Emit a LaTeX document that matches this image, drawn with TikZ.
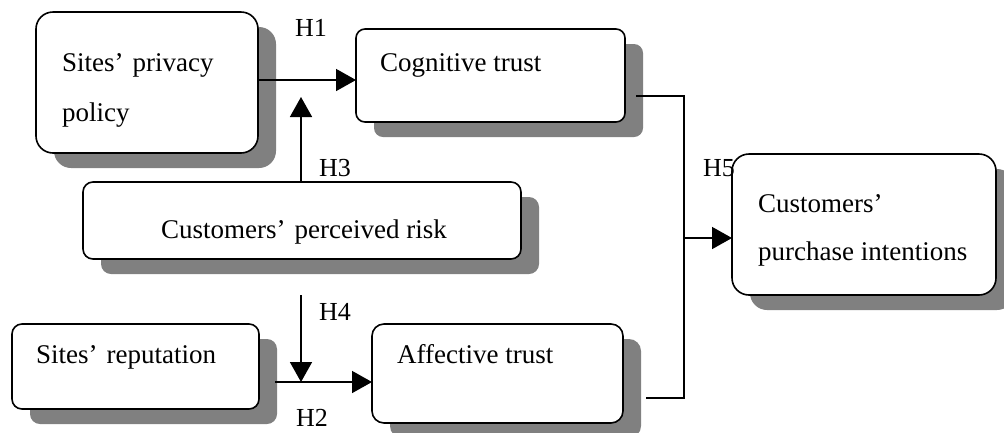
\documentclass[tikz,border=0pt]{standalone}
\usepackage{fontspec}
\setmainfont{Liberation Serif}
\usetikzlibrary{arrows.meta,shadows}
\newcommand\fq{’\hspace{0.33em}}
\begin{document}
\begin{tikzpicture}[x=1pt,y=-1pt,
  box/.style={draw, line width=1.6pt, fill=white, anchor=north west, inner sep=0pt, outer sep=0pt,
    drop shadow={shadow xshift=18pt, shadow yshift=-15pt, fill=black!50, opacity=1}},
  txt/.style={anchor=base west, inner sep=0pt, font=\fontsize{27pt}{31pt}\selectfont},
  hlab/.style={inner sep=0pt, font=\fontsize{26pt}{30pt}\selectfont},
  arr/.style={line width=1.6pt, -{Triangle[length=20pt,width=22pt]}},
  conn/.style={line width=1.6pt}]
\useasboundingbox (0,0) rectangle (1004,432);
% boxes
\node[box, rounded corners=17pt, minimum width=222pt, minimum height=141pt] (p1) at (36,12) {};
\node[box, rounded corners=9pt, minimum width=269pt, minimum height=93pt] (cog) at (356,29) {};
\node[box, rounded corners=10pt, minimum width=438pt, minimum height=77pt] (risk) at (83,182) {};
\node[box, rounded corners=10pt, minimum width=247pt, minimum height=85pt] (rep) at (12,324) {};
\node[box, rounded corners=12pt, minimum width=251pt, minimum height=99pt] (aff) at (372,324) {};
\node[box, rounded corners=17pt, minimum width=264pt, minimum height=141pt] (pur) at (732,154) {};
% texts
\node[txt] (t1a) at (62,71) {Sites\fq privacy};
\node[txt] (t1b) at (62,121) {policy};
\node[txt] (t2) at (380,71) {Cognitive trust};
\node[txt, anchor=base] (t3) at (304,238) {Customers\fq perceived risk};
\node[txt] (t4) at (36,363) {Sites\fq reputation};
\node[txt] (t5) at (397,363) {Affective trust};
\node[txt] (t6a) at (758,212) {Customers’};
\node[txt] (t6b) at (758,260) {purchase intentions};
% coordinates
\coordinate (h1y) at (0,80);
\coordinate (h3tip) at (301,97);
\coordinate (h4top) at (301,295);
\coordinate (h2start) at (275,382);
\coordinate (cogout) at (636,96);
\coordinate (jb) at (684,398);
\coordinate (affout) at (646,398);
\coordinate (jm) at (684,238);
% connectors
\draw[arr] (p1.east |- h1y) -- (cog.west |- h1y);
\draw[arr] (h3tip |- risk.north) -- (h3tip);
\draw[arr] (h4top) -- (h4top |- h2start);
\draw[arr] (h2start) -- (aff.west |- h2start);
\draw[conn] (cogout) -| (jb) -- (affout);
\draw[arr] (jm) -- (pur.west |- jm);
% labels
\node[hlab] (H1) at (311,28) {H1};
\node[hlab] (H3) at (335,168) {H3};
\node[hlab] (H4) at (335,312) {H4};
\node[hlab] (H2) at (312,418) {H2};
\node[hlab] (H5) at (719,168) {H5};
\end{tikzpicture}
\end{document}
